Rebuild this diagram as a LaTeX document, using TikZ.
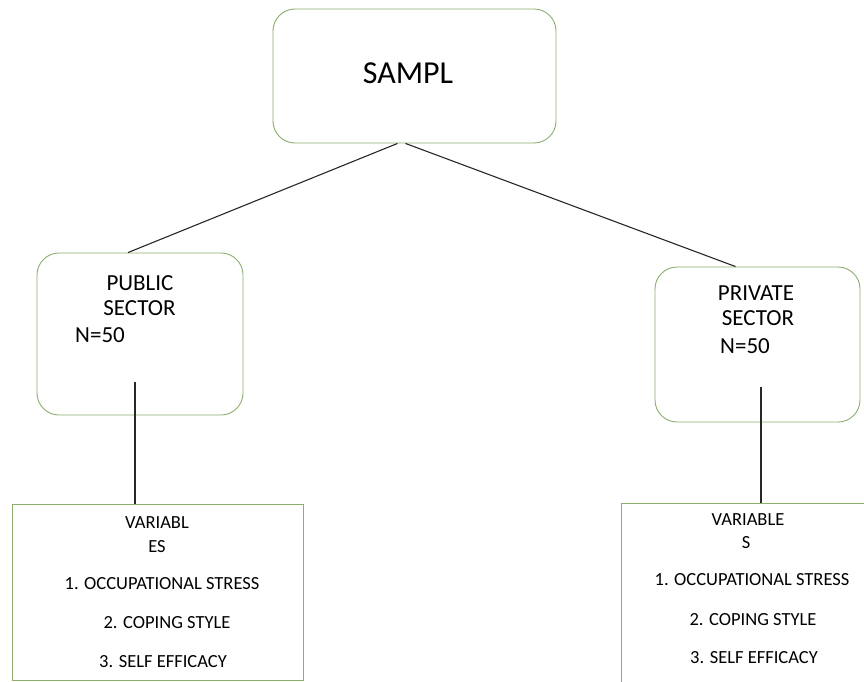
\documentclass[tikz,border=0pt]{standalone}
\usepackage{fontspec}
\setmainfont{Carlito}
\definecolor{boxgreen}{RGB}{140,175,110}
\definecolor{linegray}{RGB}{40,40,40}
\begin{document}
\begin{tikzpicture}[x=1pt,y=-1pt,
  rbox/.style={draw=boxgreen,line width=0.9pt,rounded corners=22pt,inner sep=0pt,fill=white},
  sqbox/.style={draw=boxgreen,line width=0.9pt,inner sep=0pt,fill=white},
  lbl/.style={inner sep=0pt,text=black},
  conn/.style={draw=linegray,line width=1.1pt}]
\useasboundingbox (0,0) rectangle (864,682);
\clip (0,0) rectangle (864,682);
\fill[white] (0,0) rectangle (864,682);
% boxes
\node[rbox,minimum width=283pt,minimum height=134pt] (top) at (414.5,76) {};
\node[rbox,minimum width=206pt,minimum height=162pt] (pub) at (140,334) {};
\node[rbox,minimum width=205pt,minimum height=155pt] (priv) at (757.5,344.5) {};
\node[sqbox,minimum width=291pt,minimum height=176pt] (var1) at (157.5,592) {};
\node[sqbox,minimum width=300pt,minimum height=240pt,anchor=north west] (var2) at (621,503) {};
% texts
\node[lbl,font=\fontsize{32}{38}\selectfont] (tSampl) at (408,73) {SAMPL};
\node[lbl,font=\fontsize{23}{25}\selectfont] (tPub1) at (140,283) {PUBLIC};
\node[lbl,font=\fontsize{23}{25}\selectfont] (tPub2) at (139.5,308) {SECTOR};
\node[lbl,font=\fontsize{23}{25}\selectfont,anchor=west] (tPub3) at (75,335) {N=50};
\node[lbl,font=\fontsize{23}{25}\selectfont] (tPriv1) at (756,293) {PRIVATE};
\node[lbl,font=\fontsize{23}{25}\selectfont] (tPriv2) at (758,318) {SECTOR};
\node[lbl,font=\fontsize{23}{25}\selectfont,anchor=west] (tPriv3) at (720,346) {N=50};
\node[lbl,font=\fontsize{18.5}{22}\selectfont] (tV1a) at (157,523) {VARIABL};
\node[lbl,font=\fontsize{18.5}{22}\selectfont] (tV1b) at (157,547) {ES};
\node[lbl,font=\fontsize{18.5}{22}\selectfont] (tV1c) at (162,584) {1. OCCUPATIONAL STRESS};
\node[lbl,font=\fontsize{18.5}{22}\selectfont] (tV1d) at (167,623) {2. COPING STYLE};
\node[lbl,font=\fontsize{18.5}{22}\selectfont] (tV1e) at (163,662) {3. SELF EFFICACY};
\node[lbl,font=\fontsize{18.5}{22}\selectfont] (tV2a) at (748,520) {VARIABLE};
\node[lbl,font=\fontsize{18.5}{22}\selectfont] (tV2b) at (746,543) {S};
\node[lbl,font=\fontsize{18.5}{22}\selectfont] (tV2c) at (752,580) {1. OCCUPATIONAL STRESS};
\node[lbl,font=\fontsize{18.5}{22}\selectfont] (tV2d) at (753,620) {2. COPING STYLE};
\node[lbl,font=\fontsize{18.5}{22}\selectfont] (tV2e) at (754,658) {3. SELF EFFICACY};
% connectors
\draw[conn] ([xshift=-17pt]top.south) -- ([xshift=-12pt]pub.north);
\draw[conn] ([xshift=-9pt]top.south) -- ([xshift=-22pt]priv.north);
\coordinate (pubtail) at (135,382);
\coordinate (privtail) at (761,387);
\draw[conn] (pubtail) -- (pubtail |- var1.north);
\draw[conn] (privtail) -- (privtail |- var2.north);
\end{tikzpicture}
\end{document}
